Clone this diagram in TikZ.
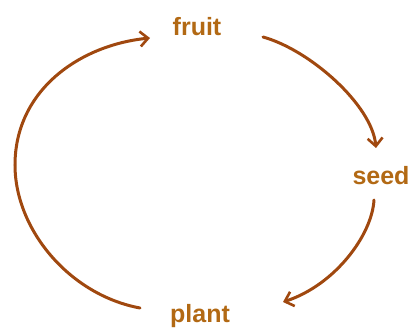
\documentclass[tikz,border=0pt]{standalone}
\usepackage{fontspec}
\setmainfont{Liberation Sans}
\usetikzlibrary{arrows.meta}
\definecolor{linebrown}{RGB}{160,72,15}
\definecolor{textbrown}{RGB}{178,105,20}
\tikzset{
  label/.style={font=\fontsize{25}{25}\selectfont\bfseries, text=textbrown, inner sep=0pt, anchor=base},
  cyc/.style={draw=linebrown, line width=3pt, line cap=round, -{Straight Barb[length=8pt,width=15pt,line width=2.6pt]}}
}
\begin{document}
\begin{tikzpicture}[x=1pt,y=1pt]
\useasboundingbox (0,0) rectangle (413,330);
\node[label] (fruit) at (197,294) {fruit};
\node[label] (seed) at (381,146) {seed};
\node[label] (plant) at (200,8) {plant};
% fruit -> seed
\draw[cyc] ([shift={(66,-1)}]fruit.base) .. controls (310,280) and (372,225) .. ([shift={(-5,36)}]seed.base);
% seed -> plant
\draw[cyc] ([shift={(-7,-16)}]seed.base) .. controls (372,95) and (335,45) .. ([shift={(83,20)}]plant.base);
% plant -> fruit
\draw[cyc] ([shift={(-60,14)}]plant.base) .. controls (70,35) and (15,100) .. (15,165)
  .. controls (15,240) and (80,285) .. ([shift={(-47,-2)}]fruit.base);
\end{tikzpicture}
\end{document}
